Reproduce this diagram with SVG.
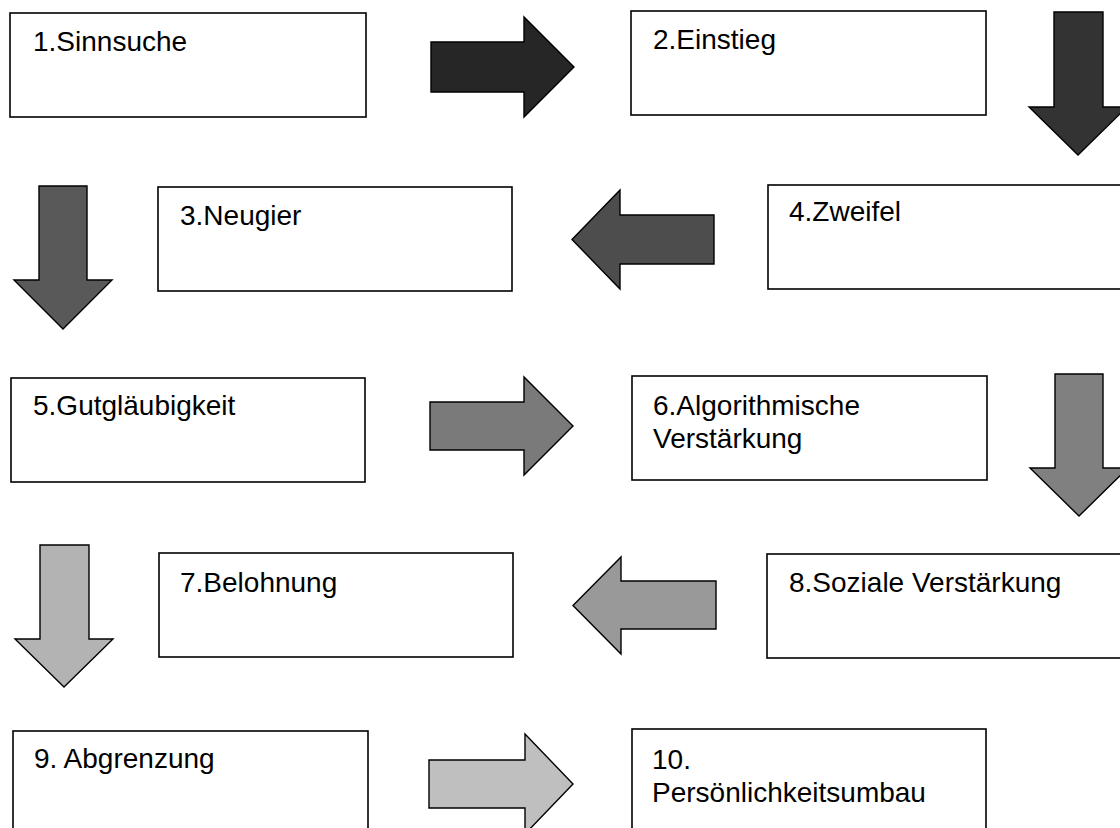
<svg xmlns="http://www.w3.org/2000/svg" width="1120" height="828" viewBox="0 0 1120 828">
<style>
.box{fill:#fff;stroke:#000;stroke-width:1.6}
.lbl{font-family:"Liberation Sans",Arial,sans-serif;font-size:28px;fill:#000}
.arr{stroke:#000;stroke-width:1.4;stroke-linejoin:miter}
</style>
<rect width="1120" height="828" fill="#fff"/>
<g id="connectors">
<path class="arr" fill="#262626" d="M431,42 H524 V17 L574,67 L524,117 V92 H431 Z"/>
<path class="arr" fill="#333333" d="M1054,12 H1103 V107 H1127 L1078,155 L1029,107 H1054 Z"/>
<path class="arr" fill="#4d4d4d" d="M714,215 H620 V190 L572,239.5 L620,289 V264 H714 Z"/>
<path class="arr" fill="#595959" d="M39,186 H87 V280 H112 L63,329 L14,280 H39 Z"/>
<path class="arr" fill="#7a7a7a" d="M430,402 H524 V377 L573,426 L524,475 V450 H430 Z"/>
<path class="arr" fill="#808080" d="M1055,374 H1103 V468 H1128 L1079,516 L1030,468 H1055 Z"/>
<path class="arr" fill="#999999" d="M716,581 H621 V557 L573,605.5 L621,654 V629 H716 Z"/>
<path class="arr" fill="#b3b3b3" d="M40,545 H89 V639 H113 L64,687 L15,639 H40 Z"/>
<path class="arr" fill="#bfbfbf" d="M429,760 H525 V734 L573,784 L525,834 V808 H429 Z"/>
</g>
<g id="n1"><rect class="box" x="10" y="13" width="356" height="104"/><text class="lbl" x="33" y="51">1.Sinnsuche</text></g>
<g id="n2"><rect class="box" x="631" y="11" width="355" height="104"/><text class="lbl" x="653" y="49">2.Einstieg</text></g>
<g id="n3"><rect class="box" x="158" y="187" width="354" height="104"/><text class="lbl" x="180" y="225">3.Neugier</text></g>
<g id="n4"><rect class="box" x="768" y="185" width="355" height="104"/><text class="lbl" x="789" y="221">4.Zweifel</text></g>
<g id="n5"><rect class="box" x="11" y="378" width="354" height="104"/><text class="lbl" x="33" y="415">5.Gutgläubigkeit</text></g>
<g id="n6"><rect class="box" x="632" y="376" width="355" height="104"/><text class="lbl" x="653" y="415">6.Algorithmische</text><text class="lbl" x="653" y="448">Verstärkung</text></g>
<g id="n7"><rect class="box" x="159" y="553" width="354" height="104"/><text class="lbl" x="180" y="592">7.Belohnung</text></g>
<g id="n8"><rect class="box" x="767" y="554" width="355" height="104"/><text class="lbl" x="789" y="592">8.Soziale Verstärkung</text></g>
<g id="n9"><rect class="box" x="13" y="731" width="355" height="104"/><text class="lbl" x="34" y="768">9. Abgrenzung</text></g>
<g id="n10"><rect class="box" x="632" y="729" width="354" height="104"/><text class="lbl" x="652" y="769">10.</text><text class="lbl" x="652" y="802">Persönlichkeitsumbau</text></g>
</svg>
